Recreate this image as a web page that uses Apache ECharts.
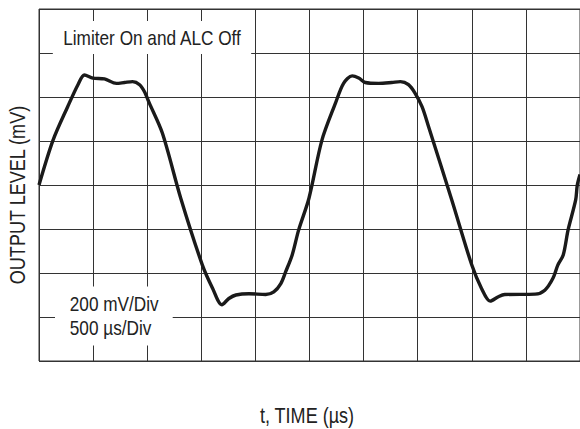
<!DOCTYPE html>
<html>
<head>
<meta charset="utf-8">
<script src="https://cdn.jsdelivr.net/npm/echarts@6/dist/echarts.min.js"></script>
<style>
  html, body { margin: 0; padding: 0; background: #fff; }
  #chart { width: 580px; height: 429px; }
</style>
</head>
<body>
<div id="chart"></div>
<script>
// time in µs (500 µs/div), level in mV (200 mV/div)
var timeUs = [0, 130, 265, 360, 420, 498, 605, 715, 790, 865, 930, 975, 1020, 1140, 1310,
  1510, 1605, 1690, 1755, 1820, 1940, 2095, 2170, 2235, 2280, 2340, 2400, 2495, 2615, 2740,
  2815, 2895, 2955, 3015, 3140, 3260, 3340, 3415, 3475, 3540, 3600, 3815, 4000, 4090, 4170,
  4245, 4305, 4585, 4675, 4750, 4795, 4845, 4890, 4960, 4975, 5000];
var levelMv = [0, 204, 356, 456, 500, 486, 482, 462, 466, 470, 456, 424, 372, 236, -60,
  -364, -470, -544, -516, -500, -494, -498, -486, -448, -394, -318, -204, -60, 204, 372,
  462, 496, 486, 466, 462, 466, 470, 456, 418, 356, 266, -68, -364, -470, -528,
  -508, -498, -496, -478, -424, -364, -318, -204, -68, 0, 48];

var xTitle = 't, TIME (µs)';
var yTitle = 'OUTPUT LEVEL (mV)';
var noteTop = 'Limiter On and ALC Off';
var noteScale = '200 mV/Div\n500 µs/Div';

// no narrow face installed, so squeeze Liberation Sans horizontally
var font = "'Liberation Sans', Arial, sans-serif";
var narrow = 0.82;
var textColor = '#222';
var gridColor = '#333';

var chart = echarts.init(document.getElementById('chart'), null, { renderer: 'svg' });

var points = timeUs.map(function (t, i) { return [t, levelMv[i]]; });

chart.setOption({
  animation: false,
  backgroundColor: '#fff',
  grid: {
    left: 39, top: 9, width: 543, height: 352,
    show: true, borderColor: gridColor, borderWidth: 1
  },
  xAxis: {
    type: 'value', min: 0, max: 5000, interval: 500,
    axisLine: { show: false }, axisTick: { show: false }, axisLabel: { show: false },
    splitLine: { show: true, lineStyle: { color: gridColor, width: 1 } }
  },
  yAxis: {
    type: 'value', min: -800, max: 800, interval: 200,
    axisLine: { show: false }, axisTick: { show: false }, axisLabel: { show: false },
    splitLine: { show: true, lineStyle: { color: gridColor, width: 1 } }
  },
  graphic: [
    {
      type: 'text', x: 307, y: 415, scaleX: narrow,
      style: {
        text: xTitle, fontFamily: font, fontSize: 22, fill: textColor,
        align: 'center', verticalAlign: 'middle'
      }
    },
    {
      type: 'text', x: 17, y: 195, rotation: Math.PI / 2, scaleX: narrow,
      style: {
        text: yTitle, fontFamily: font, fontSize: 22, fill: textColor,
        align: 'center', verticalAlign: 'middle'
      }
    },
    {
      type: 'text', x: 152, y: 37.5, z: 100, scaleX: narrow,
      style: {
        text: noteTop, fontFamily: font, fontSize: 21, fill: textColor,
        align: 'center', verticalAlign: 'middle',
        backgroundColor: '#fff', padding: [9, 12, 3, 12]
      }
    },
    {
      type: 'text', x: 55, y: 316, z: 100, scaleX: narrow,
      style: {
        text: noteScale, fontFamily: font, fontSize: 21, lineHeight: 23.5, fill: textColor,
        align: 'left', verticalAlign: 'middle',
        backgroundColor: '#fff', padding: [6, 17, 6, 18]
      }
    }
  ],
  series: [{
    type: 'line',
    data: points,
    smooth: 0.3,
    symbol: 'none',
    lineStyle: { color: '#1a1a1a', width: 3.4 },
    z: 5
  }]
});
</script>
</body>
</html>
